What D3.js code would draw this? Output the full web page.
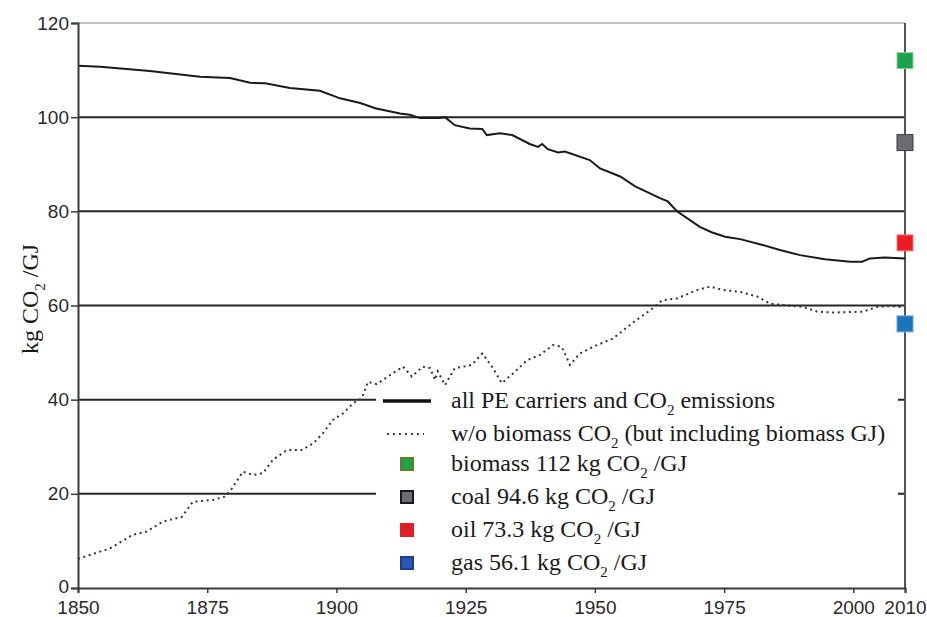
<!DOCTYPE html>
<html>
<head>
<meta charset="utf-8">
<script src="https://cdn.jsdelivr.net/npm/d3@7"></script>
<style>
  body { margin: 0; background: #fff; }
  svg { display: block; }
</style>
</head>
<body>
<div class="item"></div>
<script>
var width = 927;   // canvas width
var height = 617;  // canvas height
var margin = {top: 23, right: 22, bottom: 29, left: 78};

// all PE carriers and CO2 emissions (solid line)
var allYears = [1850, 1854.3, 1863.9, 1873.6, 1879.4, 1883.3, 1886.2, 1891, 1896.8, 1900.7,
  1904.6, 1907.5, 1912.3, 1914.2, 1916.2, 1920, 1921, 1922.9, 1925.8, 1928.2, 1929.1,
  1931.6, 1934, 1937.4, 1939, 1939.8, 1940.9, 1942.9, 1944.2, 1949, 1951, 1954.9,
  1957.8, 1962.6, 1964.1, 1965.9, 1970.3, 1972.7, 1975.2, 1978.1, 1982.3, 1985.8,
  1989.7, 1994.5, 1999.4, 2001.7, 2003.2, 2006.1, 2010];
var allValues = [110.9, 110.7, 109.8, 108.6, 108.3, 107.3, 107.2, 106.2, 105.6, 104,
  103, 101.9, 100.8, 100.5, 99.8, 99.8, 100, 98.3, 97.6, 97.5, 96.2,
  96.6, 96.2, 94.3, 93.7, 94.3, 93.2, 92.5, 92.7, 90.9, 89.1, 87.4,
  85.3, 82.8, 82.1, 80, 76.7, 75.5, 74.6, 74.1, 72.9, 71.8,
  70.7, 69.8, 69.3, 69.3, 70, 70.2, 70];

// w/o biomass CO2 (dotted line)
var woYears = [1850, 1856.2, 1860.6, 1863.3, 1866.4, 1870.1, 1872.2, 1876.1, 1878.4, 1879.4,
  1881.9, 1883.9, 1885.8, 1887.7, 1890.4, 1893.3, 1895.5, 1897.4, 1899.3, 1901.3,
  1903.2, 1904.9, 1906.1, 1907.8, 1910.9, 1912.9, 1914.6, 1916.7, 1918.1, 1919.1,
  1919.6, 1921, 1922.9, 1924.5, 1926.2, 1928.2, 1930.1, 1932, 1934.2, 1936.9,
  1939.4, 1941.9, 1943.6, 1945.2, 1947.1, 1949.6, 1953.5, 1957.4, 1961.2, 1963,
  1965.9, 1969.8, 1972.3, 1974.8, 1978.1, 1981.4, 1983.9, 1986.4, 1990.3, 1993,
  1996.1, 2001.9, 2004.6, 2007.1, 2010];
var woValues = [6.2, 8.4, 11.3, 12.0, 14.1, 15.1, 18.3, 18.7, 19.4, 20.5,
  24.7, 24.0, 24.4, 27.2, 29.3, 29.3, 30.7, 32.9, 35.7, 37.1,
  39.2, 40.3, 43.8, 43.3, 45.6, 47.0, 44.9, 47.0, 46.7, 44.2,
  46.0, 43.1, 46.7, 47.0, 47.4, 49.8, 47.0, 43.5, 45.6, 48.4,
  49.5, 51.6, 51.2, 47.4, 49.8, 51.2, 53.0, 56.4, 59.4, 61.1,
  61.5, 63.3, 64.0, 63.3, 62.9, 61.9, 60.4, 60.1, 59.7, 58.7,
  58.5, 58.7, 59.7, 59.9, 59.6];

// fuel emission factors, shown as squares at 2010
var fuelNames = ["biomass", "coal", "oil", "gas"];
var fuelValues = [112, 94.6, 73.3, 56.1];
var fuelColors = ["#1ba34c", "#6c6d71", "#ec1c24", "#1b75bc"];
var fuelBorders = ["#8fcf9f", "#3d3d3f", "#f07a7e", "#6fa6d6"];
var legendFill = ["#1ba34c", "#6c6d71", "#d91f2b", "#2c55b8"];
var legendBorder = ["#6b7a22", "#1a1a1a", "#ec1c24", "#1e3c8c"];

var xTicks = [1850, 1875, 1900, 1925, 1950, 1975, 2000, 2010];
var yTicks = [0, 20, 40, 60, 80, 100, 120];

var svg = d3.select(".item")
    .append("svg")
    .attr("width", width)
    .attr("height", height);

var x = d3.scaleLinear().domain([1850, 2010]).range([margin.left, width - margin.right]);
var y = d3.scaleLinear().domain([0, 120]).range([height - margin.bottom, margin.top]);

// grid lines
svg.append("g").selectAll("line")
    .data(yTicks.filter(function(d){ return d > 0; }))
    .enter().append("line")
    .attr("x1", x(1850))
    .attr("x2", x(2010))
    .attr("y1", function(d){ return y(d); })
    .attr("y2", function(d){ return y(d); })
    .style("stroke", function(d){ return d === 120 ? "#c4c4c4" : "#262626"; })
    .style("stroke-width", 2);

// right border line
svg.append("line")
    .attr("x1", x(2010)).attr("x2", x(2010))
    .attr("y1", y(120)).attr("y2", y(0))
    .style("stroke", "#555").style("stroke-width", 2);

// data lines
var line = d3.line()
    .x(function(d){ return x(d[0]); })
    .y(function(d){ return y(d[1]); });

svg.append("path")
    .datum(d3.zip(woYears, woValues))
    .attr("d", line)
    .style("fill", "none")
    .style("stroke", "#333")
    .style("stroke-width", 2)
    .style("stroke-dasharray", "2,3.6");

svg.append("path")
    .datum(d3.zip(allYears, allValues))
    .attr("d", line)
    .style("fill", "none")
    .style("stroke", "#1a1a1a")
    .style("stroke-width", 2);

// legend box hides the lower grid lines
var lg = svg.append("g");
lg.append("rect")
    .attr("x", 376).attr("y", 388)
    .attr("width", 522).attr("height", 194)
    .style("fill", "#fff");

var rowY = [401, 434, 464, 497, 530, 563];

lg.append("line")
    .attr("x1", 383).attr("x2", 431)
    .attr("y1", rowY[0]).attr("y2", rowY[0])
    .style("stroke", "#111").style("stroke-width", 3.5);
lg.append("line")
    .attr("x1", 387).attr("x2", 424)
    .attr("y1", rowY[1]).attr("y2", rowY[1])
    .style("stroke", "#333").style("stroke-width", 1.8)
    .style("stroke-dasharray", "1.8,4.2");

lg.selectAll("rect.sw")
    .data(fuelNames)
    .enter().append("rect")
    .attr("class", "sw")
    .attr("x", 401)
    .attr("y", function(d, i){ return rowY[i + 2] - 6; })
    .attr("width", 12).attr("height", 12)
    .style("fill", function(d, i){ return legendFill[i]; })
    .style("stroke", function(d, i){ return legendBorder[i]; })
    .style("stroke-width", 2);

var legendText = [
    ["all PE carriers and CO", "2", " emissions"],
    ["w/o biomass CO", "2", " (but including biomass GJ)"],
    ["biomass 112 kg CO", "2", " /GJ"],
    ["coal 94.6 kg CO", "2", " /GJ"],
    ["oil 73.3 kg CO", "2", " /GJ"],
    ["gas 56.1 kg CO", "2", " /GJ"]
];

var lt = lg.selectAll("text.lt")
    .data(legendText)
    .enter().append("text")
    .attr("class", "lt")
    .attr("x", 451)
    .attr("y", function(d, i){ return rowY[i] + 7; })
    .style("font-family", "'Liberation Serif', 'DejaVu Serif', serif")
    .style("font-size", "24px")
    .style("fill", "#1a1a1a");
lt.append("tspan").text(function(d){ return d[0]; });
lt.append("tspan").attr("dy", 7).style("font-size", "15px").text(function(d){ return d[1]; });
lt.append("tspan").attr("dy", -7).text(function(d){ return d[2]; });

// fuel squares on the 2010 line
svg.selectAll("rect.fuel")
    .data(fuelValues)
    .enter().append("rect")
    .attr("class", "fuel")
    .attr("x", x(2010) - 8)
    .attr("y", function(d){ return y(d) - 8; })
    .attr("width", 16).attr("height", 16)
    .style("fill", function(d, i){ return fuelColors[i]; })
    .style("stroke", function(d, i){ return fuelBorders[i]; })
    .style("stroke-width", 1);

// axes
var xAxis = d3.axisBottom(x).tickValues(xTicks).tickFormat(d3.format("d")).tickSize(5).tickPadding(8);
var yAxis = d3.axisLeft(y).tickValues(yTicks).tickSize(7).tickPadding(2);

var gx = svg.append("g")
    .attr("transform", "translate(0," + y(0) + ")")
    .call(xAxis);
var gy = svg.append("g")
    .attr("transform", "translate(" + x(1850) + ",0)")
    .call(yAxis);

[gx, gy].forEach(function(g){
    g.select(".domain").style("stroke", "#3a3a3a").style("stroke-width", 2);
    g.selectAll(".tick line").style("stroke", "#3a3a3a").style("stroke-width", 1.5);
    g.selectAll("text")
        .style("font-family", "'Liberation Sans', Arial, sans-serif")
        .style("font-size", "19px")
        .style("fill", "#2a2a2a");
});
// nudge the "0" label up a little so it clears "1850"
gy.selectAll(".tick text").filter(function(d){ return d === 0; }).attr("dy", "0.25em");

// y axis title
var yt = svg.append("text")
    .attr("transform", "translate(38,299) rotate(-90)")
    .attr("text-anchor", "middle")
    .style("font-family", "'Liberation Serif', 'DejaVu Serif', serif")
    .style("font-size", "24px")
    .style("fill", "#1a1a1a");
yt.append("tspan").text("kg CO");
yt.append("tspan").attr("dy", 7).style("font-size", "15px").text("2");
yt.append("tspan").attr("dy", -7).text(" /GJ");
</script>
</body>
</html>
